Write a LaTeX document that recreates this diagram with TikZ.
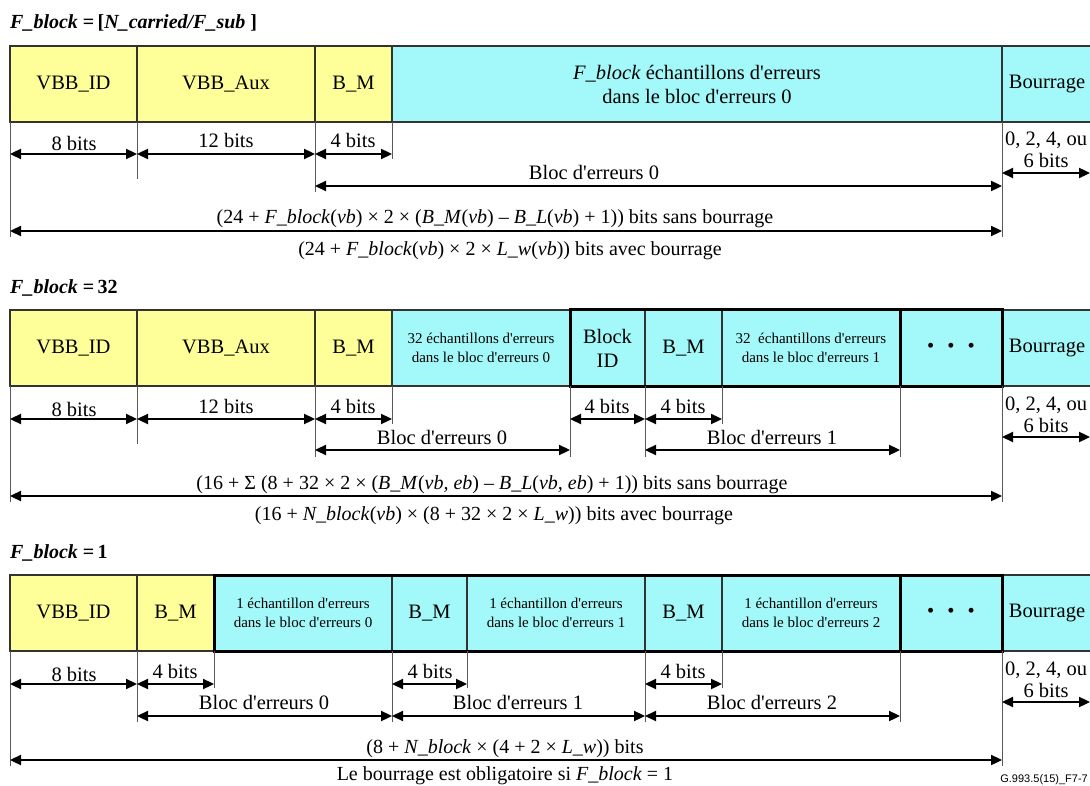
\documentclass[tikz,border=0pt]{standalone}
\usepackage{fontspec}
\setmainfont{Liberation Serif}
\newfontfamily\figsans{Liberation Sans}
\usetikzlibrary{arrows.meta}

\definecolor{hdryellow}{RGB}{255,255,153}
\definecolor{errcyan}{RGB}{163,249,249}

\newcommand\q{\textquotesingle}
\newcommand\vv{\textit}

\tikzset{
  x=1pt, y=-1pt,
  bigtext/.style={font=\fontsize{20.5}{24}\selectfont},
  formtext/.style={font=\fontsize{20}{24}\selectfont},
  smalltext/.style={font=\fontsize{15}{18.5}\selectfont},
  cell/.style={draw=black!80, line width=1.3pt, inner sep=0pt, outer sep=0pt,
    align=center, bigtext},
  ycell/.style={cell, fill=hdryellow},
  ccell/.style={cell, fill=errcyan},
  extline/.style={line width=1pt, draw=black!65},
  dimarrow/.style={line width=2.3pt,
    {Triangle[length=11pt,width=10pt]}-{Triangle[length=11pt,width=10pt]}},
  lbl/.style={inner sep=0pt, anchor=base, bigtext},
  flbl/.style={lbl, formtext},
  heavy/.style={line width=3pt, draw=black},
  titletext/.style={inner sep=0pt, anchor=base west,
    font=\fontsize{20}{24}\selectfont\bfseries},
}

% one field of a frame: name, style, x1, x2, y1, y2, text
\newcommand\bitcell[7]{%
  \pgfmathsetmacro\bcx{(#3+#4)/2}\pgfmathsetmacro\bcy{(#5+#6)/2}%
  \pgfmathsetmacro\bcw{#4-#3}\pgfmathsetmacro\bch{#6-#5}%
  \node[#2, minimum width=\bcw pt, minimum height=\bch pt] (#1) at (\bcx,\bcy) {#7};}

% extension line below a field border: name, x, y1, y2
\newcommand\extl[4]{%
  \coordinate (#1a) at (#2,#3); \coordinate (#1b) at (#2,#4);
  \draw[extline] (#1a) -- (#1b);}

% double-headed dimension arrow: name, x1, x2, y
\newcommand\dimspan[4]{%
  \coordinate (#1l) at (#2,#4); \coordinate (#1r) at (#3,#4);
  \draw[dimarrow] (#1l) -- (#1r);}

\begin{document}
\begin{tikzpicture}
\useasboundingbox (0,0) rectangle (1090,786);

% ---------------- F_block = [N_carried/F_sub] ----------------
\node[titletext] (t1) at (10,29) {\itshape F\_block\/ \upshape=\,[\itshape N\_carried/F\_sub\/\upshape\ ]};

\bitcell{a1}{ycell}{10}{137}{46}{122}{VBB\_ID}
\bitcell{a2}{ycell}{137}{315}{46}{122}{VBB\_Aux}
\bitcell{a3}{ycell}{315}{392}{46}{122}{B\_M}
\bitcell{a4}{ccell}{392}{1002}{46}{122}{\vv{F\_block} échantillons d\q erreurs\\dans le bloc d\q erreurs 0}
\bitcell{a5}{ccell}{1002}{1092}{46}{122}{Bourrage}

\extl{xa1}{10}{122}{237}
\extl{xa2}{137}{122}{179}
\extl{xa3}{315}{122}{192}
\extl{xa4}{392}{122}{159}
\extl{xa5}{1002}{122}{237}

\dimspan{da1}{10}{137}{154}   \node[lbl] (la1) at (74,151) {8 bits};
\dimspan{da2}{137}{315}{154}  \node[lbl] (la2) at (226,148) {12 bits};
\dimspan{da3}{315}{392}{154}  \node[lbl] (la3) at (353,148) {4 bits};
\dimspan{da4}{1002}{1090}{173}
\node[lbl] (la4) at (1046,146) {0, 2, 4, ou};
\node[lbl] (la5) at (1046,168) {6 bits};
\dimspan{da5}{315}{1002}{186} \node[lbl] (la6) at (594,180) {Bloc d\q erreurs 0};
\dimspan{da6}{10}{1002}{231}
\node[flbl] (la7) at (495,224) {(24 + \vv{F\_block}(\vv{vb}) × 2 × (\vv{B\_M}(\vv{vb}) – \vv{B\_L}(\vv{vb}) + 1)) bits sans bourrage};
\node[flbl] (la8) at (510,256) {(24 + \vv{F\_block}(\vv{vb}) × 2 × \vv{L\_w}(\vv{vb})) bits avec bourrage};

% ---------------- F_block = 32 ----------------
\node[titletext] (t2) at (10,294) {\itshape F\_block\/ \upshape=\,32};

\bitcell{b1}{ycell}{10}{137}{310}{386}{VBB\_ID}
\bitcell{b2}{ycell}{137}{315}{310}{386}{VBB\_Aux}
\bitcell{b3}{ycell}{315}{392}{310}{386}{B\_M}
\bitcell{b4}{ccell,smalltext}{392}{570}{310}{386}{32 échantillons d\q erreurs\\dans le bloc d\q erreurs 0}
\bitcell{b5}{ccell}{570}{645}{310}{386}{Block\\ID}
\bitcell{b6}{ccell}{645}{722}{310}{386}{B\_M}
\bitcell{b7}{ccell,smalltext}{722}{900}{310}{386}{32\ \ échantillons d\q erreurs\\dans le bloc d\q erreurs 1}
\bitcell{b8}{ccell}{900}{1002}{310}{386}{•\hspace{13pt}•\hspace{13pt}•}
\bitcell{b9}{ccell}{1002}{1092}{310}{386}{Bourrage}
\draw[heavy] (b5.north west) rectangle (b8.south east);
\draw[heavy] (b8.north west) -- (b8.south west);

\extl{xb1}{10}{386}{502}
\extl{xb2}{137}{386}{444}
\extl{xb3}{315}{386}{457}
\extl{xb4}{392}{386}{424}
\extl{xb5}{570}{386}{457}
\extl{xb6}{645}{386}{457}
\extl{xb7}{722}{386}{424}
\extl{xb8}{900}{386}{457}
\extl{xb9}{1002}{386}{502}

\dimspan{db1}{10}{137}{419}   \node[lbl] (lb1) at (74,416) {8 bits};
\dimspan{db2}{137}{315}{419}  \node[lbl] (lb2) at (226,413) {12 bits};
\dimspan{db3}{315}{392}{419}  \node[lbl] (lb3) at (353,413) {4 bits};
\dimspan{db4}{570}{645}{419}  \node[lbl] (lb4) at (607,413) {4 bits};
\dimspan{db5}{645}{722}{419}  \node[lbl] (lb5) at (683,413) {4 bits};
\dimspan{db6}{1002}{1090}{437}
\node[lbl] (lb6) at (1046,410) {0, 2, 4, ou};
\node[lbl] (lb7) at (1046,432) {6 bits};
\dimspan{db7}{315}{570}{450}  \node[lbl] (lb8) at (442,444) {Bloc d\q erreurs 0};
\dimspan{db8}{645}{900}{450}  \node[lbl] (lb9) at (772,444) {Bloc d\q erreurs 1};
\dimspan{db9}{10}{1002}{496}
\node[flbl] (lb10) at (492,489) {(16 + Σ (8 + 32 × 2 × (\vv{B\_M}(\vv{vb, eb}) – \vv{B\_L}(\vv{vb, eb}) + 1)) bits sans bourrage};
\node[flbl] (lb11) at (494,520) {(16 + \vv{N\_block}(\vv{vb}) × (8 + 32 × 2 × \vv{L\_w})) bits avec bourrage};

% ---------------- F_block = 1 ----------------
\node[titletext] (t3) at (10,558) {\itshape F\_block\/ \upshape=\,1};

\bitcell{c1}{ycell}{10}{137}{575}{651}{VBB\_ID}
\bitcell{c2}{ycell}{137}{214}{575}{651}{B\_M}
\bitcell{c3}{ccell,smalltext}{214}{392}{575}{651}{1 échantillon d\q erreurs\\dans le bloc d\q erreurs 0}
\bitcell{c4}{ccell}{392}{467}{575}{651}{B\_M}
\bitcell{c5}{ccell,smalltext}{467}{645}{575}{651}{1 échantillon d\q erreurs\\dans le bloc d\q erreurs 1}
\bitcell{c6}{ccell}{645}{722}{575}{651}{B\_M}
\bitcell{c7}{ccell,smalltext}{722}{900}{575}{651}{1 échantillon d\q erreurs\\dans le bloc d\q erreurs 2}
\bitcell{c8}{ccell}{900}{1002}{575}{651}{•\hspace{13pt}•\hspace{13pt}•}
\bitcell{c9}{ccell}{1002}{1092}{575}{651}{Bourrage}
\draw[heavy] (c3.north west) rectangle (c8.south east);
\draw[heavy] (c8.north west) -- (c8.south west);

\extl{xc1}{10}{651}{766}
\extl{xc2}{137}{651}{722}
\extl{xc3}{214}{651}{688}
\extl{xc4}{392}{651}{722}
\extl{xc5}{467}{651}{688}
\extl{xc6}{645}{651}{722}
\extl{xc7}{722}{651}{688}
\extl{xc8}{900}{651}{722}
\extl{xc9}{1002}{651}{766}

\dimspan{dc1}{10}{137}{684}   \node[lbl] (lc1) at (74,681) {8 bits};
\dimspan{dc2}{137}{214}{684}  \node[lbl] (lc2) at (175,678) {4 bits};
\dimspan{dc3}{392}{467}{684}  \node[lbl] (lc3) at (430,678) {4 bits};
\dimspan{dc4}{645}{722}{684}  \node[lbl] (lc4) at (683,678) {4 bits};
\dimspan{dc5}{1002}{1090}{702}
\node[lbl] (lc5) at (1046,675) {0, 2, 4, ou};
\node[lbl] (lc6) at (1046,697) {6 bits};
\dimspan{dc6}{137}{392}{716}  \node[lbl] (lc7) at (264,709) {Bloc d\q erreurs 0};
\dimspan{dc7}{392}{645}{716}  \node[lbl] (lc8) at (518,709) {Bloc d\q erreurs 1};
\dimspan{dc8}{645}{900}{716}  \node[lbl] (lc9) at (772,709) {Bloc d\q erreurs 2};
\dimspan{dc9}{10}{1002}{760}
\node[flbl] (lc10) at (505,753) {(8 + \vv{N\_block} × (4 + 2 × \vv{L\_w})) bits};
\node[flbl] (lc11) at (505,780) {Le bourrage est obligatoire si \vv{F\_block} = 1};

\node[inner sep=0pt, anchor=base east, font=\figsans\fontsize{11}{13}\selectfont] (ref) at (1088,782) {G.993.5(15)\_F7-7};
\end{tikzpicture}
\end{document}
